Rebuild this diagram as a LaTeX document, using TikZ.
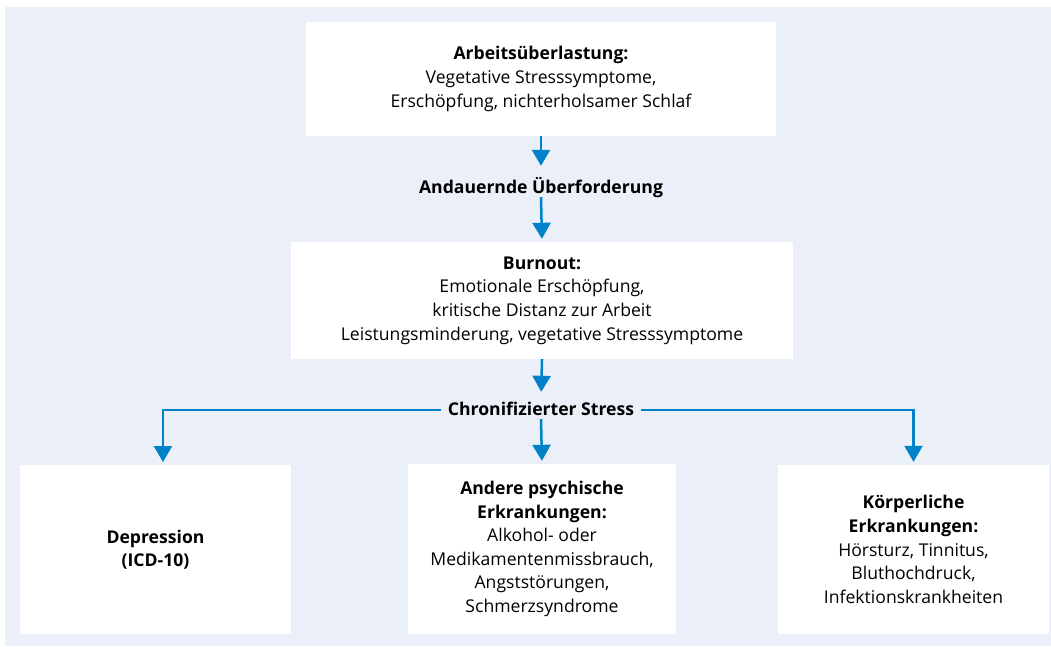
\documentclass[tikz,border=0pt]{standalone}
\usepackage{fontspec}
\setmainfont{Open Sans}
\usetikzlibrary{arrows.meta,calc,positioning}
\definecolor{sfondo}{RGB}{235,240,248}
\definecolor{blufreccia}{RGB}{0,130,200}

\begin{document}
\begin{tikzpicture}[x=1pt, y=-1pt,
  box/.style={fill=white, inner sep=0pt, align=center, font=\fontsize{17.6}{23.6}\selectfont},
  passo/.style={inner xsep=7pt, inner ysep=0pt, text height=14pt, text depth=4pt, font=\fontsize{17.6}{23.6}\selectfont\bfseries},
  freccia/.style={draw=blufreccia, line width=2.5pt, shorten >=3pt, -{Triangle[width=18pt,length=16pt]}}]
\useasboundingbox (0,0) rectangle (1051,646);
\fill[sfondo] (5,7) rectangle (1051,646);
% --- catena superiore ---
\node[box, minimum width=470pt, minimum height=114pt] (ueberlast) at (541,79)
  {\textbf{Arbeitsüberlastung:}\\Vegetative Stresssymptome,\\Erschöpfung, nichterholsamer Schlaf};
\node[passo] (andauernd) at (541,188) {Andauernde Überforderung};
\node[box, minimum width=502pt, minimum height=117pt] (burnout) at (542,300.5)
  {\textbf{Burnout:}\\Emotionale Erschöpfung,\\kritische Distanz zur Arbeit\\Leistungsminderung, vegetative Stresssymptome};
\node[passo] (chron) at (541,410) {Chronifizierter Stress};
% --- folgen ---
\node[box, minimum width=271pt, minimum height=169pt] (depress) at (155.5,549.5)
  {\textbf{Depression}\\\textbf{(ICD-10)}};
\node[box, minimum width=268pt, minimum height=170pt] (andere) at (542,549)
  {\textbf{Andere psychische}\\\textbf{Erkrankungen:}\\Alkohol- oder\\Medikamentenmissbrauch,\\Angststörungen,\\Schmerzsyndrome};
\node[box, minimum width=271pt, minimum height=169pt] (koerper) at (913.5,549.5)
  {\textbf{Körperliche}\\\textbf{Erkrankungen:}\\Hörsturz, Tinnitus,\\Bluthochdruck,\\Infektionskrankheiten};
\coordinate (depin) at (163,465);
% --- pfeile ---
\draw[freccia, shorten >=13pt] (ueberlast.south) -- (andauernd.north);
\draw[freccia] (andauernd.south) -- (burnout.north);
\draw[freccia, shorten >=9pt] (burnout.south) -- (chron.north);
\draw[freccia] (chron.south) -- (andere.north);
\draw[freccia] (chron.west) -| (depin);
\draw[freccia] (chron.east) -| (koerper.north);
\end{tikzpicture}
\end{document}
